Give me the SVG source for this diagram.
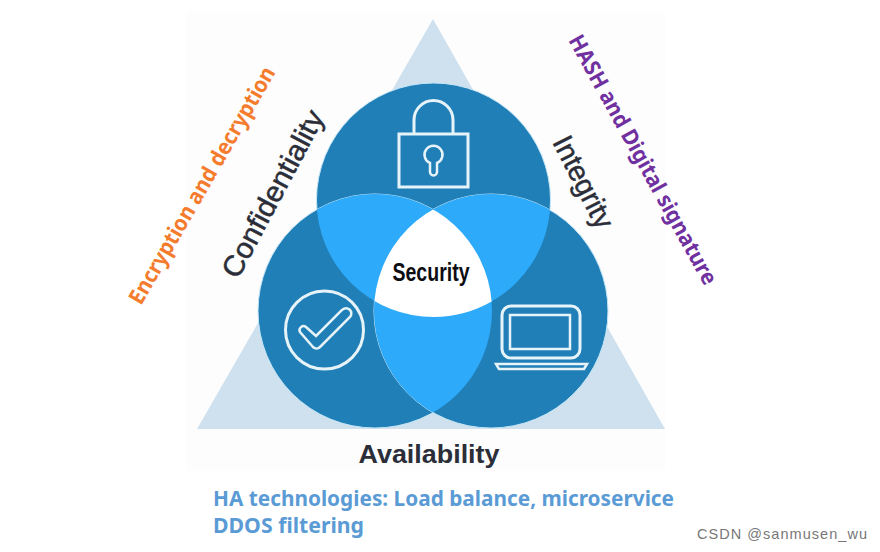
<svg xmlns="http://www.w3.org/2000/svg" width="880" height="552" viewBox="0 0 880 552">
<style>
.lbl{font-family:"Liberation Sans",Arial,sans-serif;fill:#2b2e38;font-size:29px;stroke:#2b2e38;stroke-width:.5px}
.note{font-family:"Noto Sans","Open Sans",sans-serif;font-weight:700}
.ic{fill:none;stroke:#e6f3f9;stroke-width:3}
</style>
<defs>
<clipPath id="cT"><circle cx="433.5" cy="200" r="117"/></clipPath>
<clipPath id="cL"><circle cx="375" cy="311" r="117"/></clipPath>
<clipPath id="cLT" clip-path="url(#cT)"><circle cx="375" cy="311" r="117"/></clipPath>
</defs>
<rect width="880" height="552" fill="#fff"/>
<rect x="186" y="12" width="479" height="459" fill="#fdfdfd"/>
<polygon points="433,19 665,429 197,429" fill="#cfe1ee"/>
<g id="venn">
<circle cx="433.5" cy="200" r="117" fill="#217fb8" stroke="#c4e6f6" stroke-width="1"/>
<circle cx="375" cy="311" r="117" fill="#217fb8" stroke="#c4e6f6" stroke-width="1"/>
<circle cx="491" cy="311" r="117" fill="#217fb8" stroke="#c4e6f6" stroke-width="1"/>
<circle cx="375" cy="311" r="117" fill="#2eaafa" clip-path="url(#cT)"/>
<circle cx="491" cy="311" r="117" fill="#2eaafa" clip-path="url(#cT)"/>
<circle cx="491" cy="311" r="117" fill="#2eaafa" clip-path="url(#cL)"/>
<circle cx="491" cy="311" r="117" fill="#fff" clip-path="url(#cLT)"/>
</g>
<g id="lock" class="ic">
<rect x="399" y="134" width="69" height="53"/>
<path d="M414 133V120a19.500 19.500 0 0 1 39 0V133"/>
<path d="M430 172V163a9 9 0 1 1 7 0V172a3.500 3.500 0 0 1-7 0Z" stroke-width="2.500"/>
</g>
<g id="check" class="ic">
<circle cx="324.500" cy="330" r="39"/>
<path d="M300 332a4 4 0 0 1 6-5L316 336 342 310a5 5 0 0 1 8 7L320 347a5 5 0 0 1-7 0Z" stroke-width="2.500"/>
</g>
<g id="laptop" class="ic">
<rect x="502" y="306" width="78" height="52" rx="9"/>
<rect x="510" y="315" width="60" height="34" stroke-width="2.500"/>
<path d="M496 364H587L584 369H499Z" stroke-width="2.500"/>
</g>
<g id="security"><text x="431" y="281" text-anchor="middle" font-family="Liberation Sans Narrow,Liberation Sans,sans-serif" font-size="26" font-weight="700" fill="#0d0d12" textLength="77" lengthAdjust="spacingAndGlyphs">Security</text></g>
<g id="confidentiality"><text class="lbl" transform="translate(238,280) rotate(-62)" textLength="185" lengthAdjust="spacingAndGlyphs">Confidentiality</text></g>
<g id="integrity"><text class="lbl" transform="translate(552,142) rotate(63)" textLength="100" lengthAdjust="spacingAndGlyphs">Integrity</text></g>
<g id="availability"><text x="429" y="463" text-anchor="middle" font-family="Liberation Sans,Arial,sans-serif" font-weight="700" font-size="25" fill="#2b2e38" textLength="141" lengthAdjust="spacingAndGlyphs">Availability</text></g>
<g id="encryption"><text class="note" transform="translate(141,306) rotate(-60)" font-size="22" fill="#f47c2c" textLength="270" lengthAdjust="spacingAndGlyphs">Encryption and decryption</text></g>
<g id="hash"><text class="note" transform="translate(568,40) rotate(61)" font-size="22" fill="#7030a0" textLength="282" lengthAdjust="spacingAndGlyphs">HASH and Digital signature</text></g>
<g id="ha"><text class="note" x="213" y="506" font-size="21" fill="#5b9bd5" textLength="461" lengthAdjust="spacingAndGlyphs">HA technologies: Load balance, microservice</text>
<text class="note" x="213" y="533" font-size="21" fill="#5b9bd5" textLength="151" lengthAdjust="spacingAndGlyphs">DDOS filtering</text></g>
<g id="watermark"><text x="697" y="539" font-family="Liberation Sans,sans-serif" font-size="14.500" fill="#777" textLength="170">CSDN @sanmusen_wu</text></g>
</svg>
